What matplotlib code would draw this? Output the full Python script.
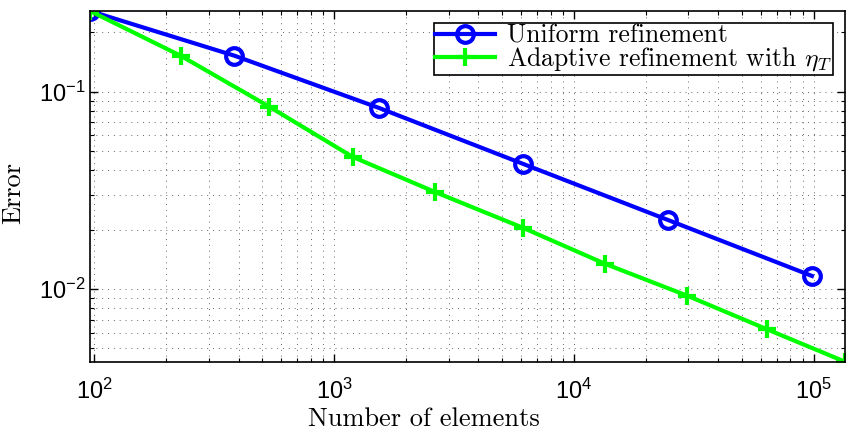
import matplotlib
matplotlib.use('Agg')
import matplotlib.pyplot as plt
from matplotlib.ticker import LogLocator, NullFormatter

# uniform refinement
n_uniform = [96, 384, 1536, 6144, 24576, 98304]
err_uniform = [0.256, 0.152, 0.0827, 0.043, 0.0224, 0.01164]

# adaptive refinement with eta_T
n_adapt = [96, 229, 536, 1194, 2633, 6138, 13500, 29700, 63800, 135000]
err_adapt = [0.256, 0.152, 0.0839, 0.0467, 0.031, 0.0204, 0.0134, 0.00924, 0.00625, 0.00428]

labels = ['Uniform refinement', r'Adaptive refinement with $\eta_T$']

plt.rcParams['mathtext.fontset'] = 'custom'
plt.rcParams['mathtext.rm'] = 'Liberation Sans'
plt.rcParams['mathtext.it'] = 'Liberation Sans:italic'
plt.rcParams['mathtext.bf'] = 'Liberation Sans:bold'
plt.rcParams['font.family'] = 'Liberation Sans'

fig = plt.figure(figsize=(8.46, 4.36), dpi=100)
ax = fig.add_axes([0.1064, 0.1704, 0.8924, 0.8044])

ax.loglog(n_uniform, err_uniform, '-o', color=(0, 0, 1), lw=3, ms=12,
          mfc='none', mew=3, label=labels[0])
ax.loglog(n_adapt, err_adapt, '-+', color=(0, 1, 0), lw=3, ms=13,
          mew=3, label=labels[1])

# axis tight
ax.set_xlim(min(n_adapt), max(n_adapt))
ax.set_ylim(min(err_adapt), max(err_adapt))

ax.xaxis.set_major_locator(LogLocator(base=10, numticks=10))
ax.xaxis.set_minor_locator(LogLocator(base=10, subs=range(2, 10), numticks=20))
ax.yaxis.set_major_locator(LogLocator(base=10, numticks=10))
ax.yaxis.set_minor_locator(LogLocator(base=10, subs=range(2, 10), numticks=20))
ax.xaxis.set_minor_formatter(NullFormatter())
ax.yaxis.set_minor_formatter(NullFormatter())

ax.grid(True, which='both', linestyle=(0, (1, 5)), color='#666666', lw=0.7)
ax.tick_params(which='both', direction='in', top=True, right=True, labelsize=17)
ax.tick_params(which='major', length=6, width=1)
ax.tick_params(which='minor', length=3, width=0.8)
ax.tick_params(axis='x', pad=12)
for s in ax.spines.values():
    s.set_linewidth(1.2)

ax.set_xlabel('Number of elements', family='cmr10', fontsize=19)
ax.set_ylabel('Error', family='cmr10', fontsize=19)
ax.xaxis.set_label_coords(0.442, -0.13)
ax.yaxis.set_label_coords(-0.086, 0.48)

leg = ax.legend(loc='upper right', prop={'family': 'cmr10', 'size': 18.5},
                fancybox=False, edgecolor='black', framealpha=1,
                borderpad=0.05, labelspacing=-0.08, handlelength=2.3,
                handletextpad=0.5, borderaxespad=0.45)
leg.get_frame().set_linewidth(1.2)
for t in leg.get_texts():
    t.set_math_fontfamily('cm')

plt.savefig('out.png')
